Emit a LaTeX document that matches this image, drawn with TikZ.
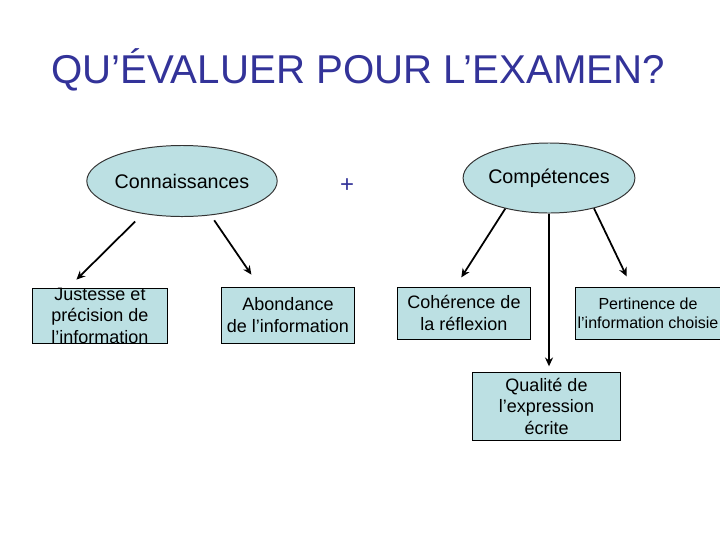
\documentclass[tikz,border=0pt]{standalone}
\usepackage{fontspec}
\setmainfont{Liberation Sans}
\usepackage{tikz}
\usetikzlibrary{shapes.geometric, arrows.meta, positioning, calc}
\definecolor{titleblue}{HTML}{333399}
\definecolor{paleteal}{HTML}{BCE0E3}

\begin{document}
\begin{tikzpicture}[
  x=0.025cm, y=-0.025cm,
  topic/.style={ellipse, draw=black!80, fill=paleteal, line width=0.7pt, inner sep=0pt, font=\fontsize{14}{16}\selectfont},
  crit/.style={rectangle, draw=black, fill=paleteal, line width=0.7pt, align=center, inner sep=0pt, font=\fontsize{12.8}{15.3}\selectfont},
  crittext/.style={align=center, inner sep=0pt, font=\fontsize{12.8}{15.3}\selectfont},
  arrow/.style={-{Stealth[length=2.2mm, width=2mm]}, line width=1.25pt, color=black}
]
  \fill[white] (0,0) rectangle (720,540);
  \useasboundingbox (0,0) rectangle (720,540);

  \node[anchor=base, text=titleblue, font=\fontsize{28.6}{32}\selectfont] (title) at (358,83) {QU’ÉVALUER POUR L’EXAMEN?};

  \node[topic, minimum width=3.625cm, minimum height=1.775cm] (conn) at (182,181) {Connaissances};
  \node[topic, minimum width=3.825cm, minimum height=1.75cm] (comp) at (549,178) {Compétences};
  \node[text=titleblue, font=\fontsize{17}{18}\selectfont] (plus) at (347,186) {+};

  \node[crit, minimum width=3.35cm, minimum height=1.375cm,
    label={[crittext]center:Justesse et\\précision de\\l’information}] (just) at (100,315.5) {};
  \node[crit, minimum width=3.3cm, minimum height=1.4cm] (abond) at (288,315) {Abondance\\de l’information};
  \node[crit, minimum width=3.3cm, minimum height=1.3cm] (coher) at (464,313) {Cohérence de\\la réflexion};
  \node[crit, minimum width=3.65cm, minimum height=1.3cm, font=\fontsize{11.4}{13.5}\selectfont] (pert) at (648,313) {Pertinence de\\l’information choisie};
  \node[crit, minimum width=3.675cm, minimum height=1.7cm] (qual) at (546.5,406) {Qualité de\\l’expression\\écrite};

  \draw[arrow, shorten <=0.27cm, shorten >=0.28cm] (conn.220) -- ([xshift=0.9cm]just.north west);
  \draw[arrow, shorten <=0.15cm, shorten >=0.36cm] (conn.310) -- ([xshift=0.95cm]abond.north west);
  \draw[arrow, shorten >=0.27cm] (comp.215) -- ([xshift=1.45cm]coher.north west);
  \draw[arrow, shorten >=0.13cm] (comp.south) -- (comp.south |- qual.north);
  \draw[arrow, shorten >=0.28cm] (comp.326) -- ([xshift=1.425cm]pert.north west);
\end{tikzpicture}
\end{document}
